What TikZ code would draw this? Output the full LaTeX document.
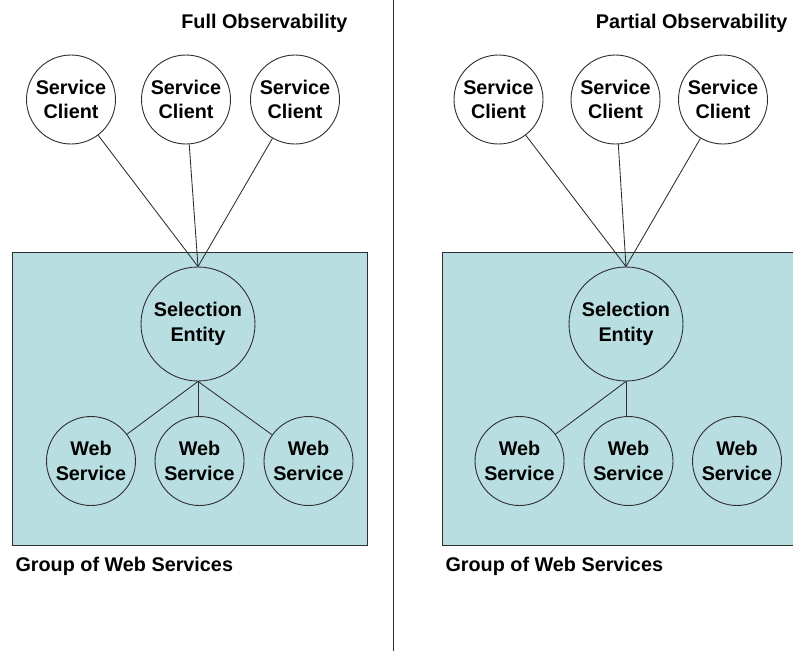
\documentclass[tikz,border=0pt]{standalone}
\usepackage{fontspec}
\setmainfont{Liberation Sans}
\definecolor{groupfill}{HTML}{B9DEE2}
\definecolor{ink}{HTML}{2E2E2E}
\begin{document}
\begin{tikzpicture}[x=1pt,y=-1pt,
  lbl/.style={font=\fontsize{19.8}{24.5}\selectfont\bfseries, text=black},
  ent/.style={circle, draw=ink, line width=0.9pt, inner sep=0pt, align=center, lbl},
  client/.style={ent, minimum size=89pt, fill=white},
  selent/.style={ent, minimum size=114pt},
  websvc/.style={ent, minimum size=89pt},
  grp/.style={fill=groupfill, draw=ink, line width=1pt},
  link/.style={draw=ink, line width=0.85pt}]
\useasboundingbox (0,0) rectangle (793,651);
\clip (0,0) rectangle (793,651);
\fill[white] (0,0) rectangle (793,651);
% divider
\draw[ink, line width=1pt] (393,0) -- (393,651);
% groups
\draw[grp] (12.5,252.5) rectangle (367.5,545);
\fill[groupfill] (442,252.5) rectangle (795,545);
\draw[ink, line width=1pt] (795,252.5) -- (442,252.5) -- (442,545) -- (795,545);
% titles
\node[lbl, anchor=base east] (t1) at (351,28) {Full Observability};
\node[lbl, anchor=base east] (t2) at (791,28) {Partial Observability};
\node[lbl, anchor=base west] (g1) at (12,571) {Group of Web Services};
\node[lbl, anchor=base west] (g2) at (442,571) {Group of Web Services};
% left panel
\node[client] (a1) at (71,99.5) {Service\\Client};
\node[client] (a2) at (186,99.5) {Service\\Client};
\node[client] (a3) at (295,99.5) {Service\\Client};
\node[selent] (as) at (198,324) {Selection\\Entity};
\node[websvc] (aw1) at (91,461) {Web\\Service};
\node[websvc] (aw2) at (199.5,461) {Web\\Service};
\node[websvc] (aw3) at (308.5,461) {Web\\Service};
\draw[link] (a1) -- (as.north);
\draw[link] (a2) -- (as.north);
\draw[link] (a3) -- (as.north);
\draw[link] (as.south) -- (aw1);
\draw[link] (as.south) -- (as.south |- aw2.north);
\draw[link] (as.south) -- (aw3);
% right panel
\node[client] (b1) at (498.5,99.5) {Service\\Client};
\node[client] (b2) at (615.5,99.5) {Service\\Client};
\node[client] (b3) at (723,99.5) {Service\\Client};
\node[selent] (bs) at (626,324) {Selection\\Entity};
\node[websvc] (bw1) at (519.5,461) {Web\\Service};
\node[websvc] (bw2) at (628.5,461) {Web\\Service};
\node[websvc] (bw3) at (737,461) {Web\\Service};
\draw[link] (b1) -- (bs.north);
\draw[link] (b2) -- (bs.north);
\draw[link] (b3) -- (bs.north);
\draw[link] (bs.south) -- (bw1);
\draw[link] (bs.south) -- (bs.south |- bw2.north);
\end{tikzpicture}
\end{document}
